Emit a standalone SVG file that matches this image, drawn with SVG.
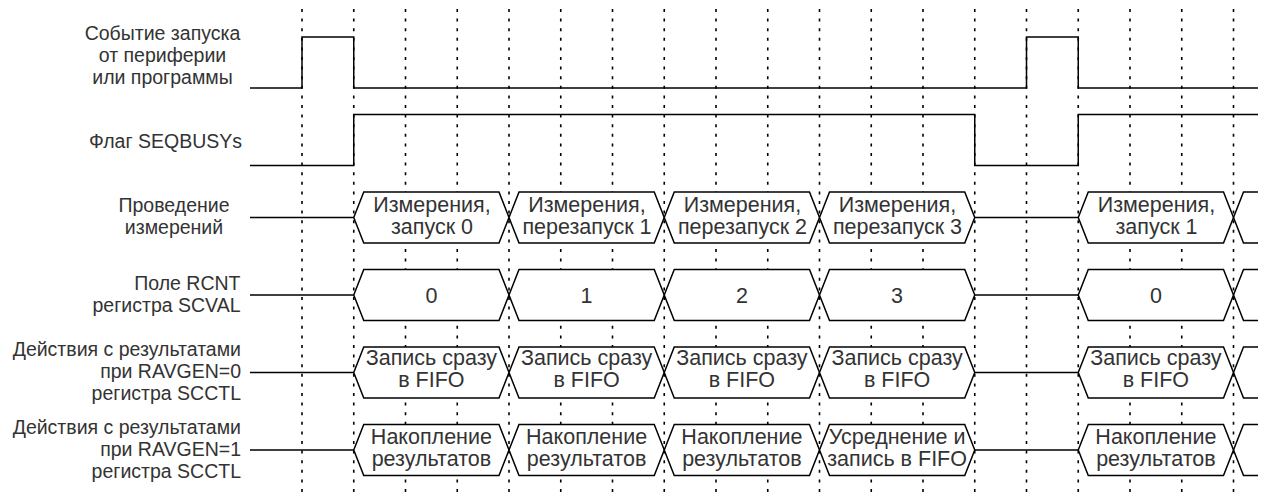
<svg xmlns="http://www.w3.org/2000/svg" width="1264" height="501" viewBox="0 0 1264 501">
<style>
  text { font-family: "Liberation Sans", Arial, sans-serif; font-size: 19.5px; fill: #333333; }
  .c { text-anchor: middle; }
  .e { text-anchor: end; }
  .h text { font-size: 21.5px; text-anchor: middle; }
  .grid line { stroke: #000; stroke-width: 1.6; stroke-dasharray: 3 6.6; }
  .sig { fill: none; stroke: #000; stroke-width: 1.5; }
  .hex { fill: #fff; stroke: #000; stroke-width: 1.5; stroke-linejoin: miter; }
  .ln { fill: none; stroke: #000; stroke-width: 1.5; }
</style>
<rect width="1264" height="501" fill="#fff"/>
<g id="connectors">
  <g class="grid">
    <line x1="302" y1="9" x2="302" y2="496"/>
    <line x1="353.75" y1="9" x2="353.75" y2="496"/>
    <line x1="405.5" y1="9" x2="405.5" y2="496"/>
    <line x1="457.25" y1="9" x2="457.25" y2="496"/>
    <line x1="509" y1="9" x2="509" y2="496"/>
    <line x1="560.75" y1="9" x2="560.75" y2="496"/>
    <line x1="612.5" y1="9" x2="612.5" y2="496"/>
    <line x1="664.25" y1="9" x2="664.25" y2="496"/>
    <line x1="716" y1="9" x2="716" y2="496"/>
    <line x1="767.75" y1="9" x2="767.75" y2="496"/>
    <line x1="819.5" y1="9" x2="819.5" y2="496"/>
    <line x1="871.25" y1="9" x2="871.25" y2="496"/>
    <line x1="923" y1="9" x2="923" y2="496"/>
    <line x1="974.75" y1="9" x2="974.75" y2="496"/>
    <line x1="1026.5" y1="9" x2="1026.5" y2="496"/>
    <line x1="1078.25" y1="9" x2="1078.25" y2="496"/>
    <line x1="1130" y1="9" x2="1130" y2="496"/>
    <line x1="1181.75" y1="9" x2="1181.75" y2="496"/>
    <line x1="1233.5" y1="9" x2="1233.5" y2="496"/>
  </g>
  <path class="ln" d="M250,217.5 H353.75 M974.75,217.5 H1078.25"/>
  <path class="ln" d="M250,295 H353.75 M974.75,295 H1078.25"/>
  <path class="ln" d="M250,372.5 H353.75 M974.75,372.5 H1078.25"/>
  <path class="ln" d="M250,450 H353.75 M974.75,450 H1078.25"/>
</g>

<g id="label-trigger">
  <text class="c" x="162.5" y="39.5">Событие запуска</text>
  <text class="c" x="162.5" y="61.5">от периферии</text>
  <text class="c" x="162.5" y="83.5">или программы</text>
</g>
<g id="signal-trigger">
  <path class="sig" d="M250,88 H302 V37 H353.75 V88 H1026.5 V37 H1078.25 V88 H1258"/>
</g>

<g id="label-seqbusy">
  <text class="e" x="242" y="147.5">Флаг SEQBUSYs</text>
</g>
<g id="signal-seqbusy">
  <path class="sig" d="M250,165.5 H353.75 V114.5 H974.75 V165.5 H1078.25 V114.5 H1258"/>
</g>

<g id="label-meas">
  <text class="c" x="174" y="211.5">Проведение</text>
  <text class="c" x="174" y="233.5">измерений</text>
</g>
<g id="meas-0" class="h">
  <path class="hex" d="M353.75,217.5 L363.75,192 H499 L509,217.5 L499,243 H363.75 Z"/>
  <text x="432" y="211.5">Измерения,</text>
  <text x="432" y="233.5">запуск 0</text>
</g>
<g id="meas-1" class="h">
  <path class="hex" d="M509,217.5 L519,192 H654.25 L664.25,217.5 L654.25,243 H519 Z"/>
  <text x="587" y="211.5">Измерения,</text>
  <text x="587" y="233.5">перезапуск 1</text>
</g>
<g id="meas-2" class="h">
  <path class="hex" d="M664.25,217.5 L674.25,192 H809.5 L819.5,217.5 L809.5,243 H674.25 Z"/>
  <text x="742.5" y="211.5">Измерения,</text>
  <text x="742.5" y="233.5">перезапуск 2</text>
</g>
<g id="meas-3" class="h">
  <path class="hex" d="M819.5,217.5 L829.5,192 H964.75 L974.75,217.5 L964.75,243 H829.5 Z"/>
  <text x="897.5" y="211.5">Измерения,</text>
  <text x="897.5" y="233.5">перезапуск 3</text>
</g>
<g id="meas-4" class="h">
  <path class="hex" d="M1078.25,217.5 L1088.25,192 H1223.5 L1233.5,217.5 L1223.5,243 H1088.25 Z"/>
  <text x="1156.5" y="211.5">Измерения,</text>
  <text x="1156.5" y="233.5">запуск 1</text>
</g>
<g id="meas-5">
  <path class="ln" d="M1258,192 H1243.5 L1233.5,217.5 L1243.5,243 H1258"/>
</g>

<g id="label-rcnt">
  <text class="e" x="240.5" y="289.5">Поле RCNT</text>
  <text class="e" x="240.5" y="311.5">регистра SCVAL</text>
</g>
<g id="rcnt-0" class="h">
  <path class="hex" d="M353.75,295 L363.75,269.5 H499 L509,295 L499,320.5 H363.75 Z"/>
  <text x="431.4" y="302.5">0</text>
</g>
<g id="rcnt-1" class="h">
  <path class="hex" d="M509,295 L519,269.5 H654.25 L664.25,295 L654.25,320.5 H519 Z"/>
  <text x="586.6" y="302.5">1</text>
</g>
<g id="rcnt-2" class="h">
  <path class="hex" d="M664.25,295 L674.25,269.5 H809.5 L819.5,295 L809.5,320.5 H674.25 Z"/>
  <text x="741.9" y="302.5">2</text>
</g>
<g id="rcnt-3" class="h">
  <path class="hex" d="M819.5,295 L829.5,269.5 H964.75 L974.75,295 L964.75,320.5 H829.5 Z"/>
  <text x="897.1" y="302.5">3</text>
</g>
<g id="rcnt-4" class="h">
  <path class="hex" d="M1078.25,295 L1088.25,269.5 H1223.5 L1233.5,295 L1223.5,320.5 H1088.25 Z"/>
  <text x="1155.9" y="302.5">0</text>
</g>
<g id="rcnt-5">
  <path class="ln" d="M1258,269.5 H1243.5 L1233.5,295 L1243.5,320.5 H1258"/>
</g>

<g id="label-ravgen0">
  <text class="e" x="241" y="356">Действия с результатами</text>
  <text class="e" x="241" y="378">при RAVGEN=0</text>
  <text class="e" x="241" y="400">регистра SCCTL</text>
</g>
<g id="r0-0" class="h">
  <path class="hex" d="M353.75,372.5 L363.75,347 H499 L509,372.5 L499,398 H363.75 Z"/>
  <text x="431.4" y="365">Запись сразу</text>
  <text x="431.4" y="387">в FIFO</text>
</g>
<g id="r0-1" class="h">
  <path class="hex" d="M509,372.5 L519,347 H654.25 L664.25,372.5 L654.25,398 H519 Z"/>
  <text x="586.6" y="365">Запись сразу</text>
  <text x="586.6" y="387">в FIFO</text>
</g>
<g id="r0-2" class="h">
  <path class="hex" d="M664.25,372.5 L674.25,347 H809.5 L819.5,372.5 L809.5,398 H674.25 Z"/>
  <text x="741.9" y="365">Запись сразу</text>
  <text x="741.9" y="387">в FIFO</text>
</g>
<g id="r0-3" class="h">
  <path class="hex" d="M819.5,372.5 L829.5,347 H964.75 L974.75,372.5 L964.75,398 H829.5 Z"/>
  <text x="897.1" y="365">Запись сразу</text>
  <text x="897.1" y="387">в FIFO</text>
</g>
<g id="r0-4" class="h">
  <path class="hex" d="M1078.25,372.5 L1088.25,347 H1223.5 L1233.5,372.5 L1223.5,398 H1088.25 Z"/>
  <text x="1155.9" y="365">Запись сразу</text>
  <text x="1155.9" y="387">в FIFO</text>
</g>
<g id="r0-5">
  <path class="ln" d="M1258,347 H1243.5 L1233.5,372.5 L1243.5,398 H1258"/>
</g>

<g id="label-ravgen1">
  <text class="e" x="241" y="433.5">Действия с результатами</text>
  <text class="e" x="241" y="455.5">при RAVGEN=1</text>
  <text class="e" x="241" y="477.5">регистра SCCTL</text>
</g>
<g id="r1-0" class="h">
  <path class="hex" d="M353.75,450 L363.75,424.5 H499 L509,450 L499,475.5 H363.75 Z"/>
  <text x="431.4" y="444">Накопление</text>
  <text x="431.4" y="466">результатов</text>
</g>
<g id="r1-1" class="h">
  <path class="hex" d="M509,450 L519,424.5 H654.25 L664.25,450 L654.25,475.5 H519 Z"/>
  <text x="586.6" y="444">Накопление</text>
  <text x="586.6" y="466">результатов</text>
</g>
<g id="r1-2" class="h">
  <path class="hex" d="M664.25,450 L674.25,424.5 H809.5 L819.5,450 L809.5,475.5 H674.25 Z"/>
  <text x="741.9" y="444">Накопление</text>
  <text x="741.9" y="466">результатов</text>
</g>
<g id="r1-3" class="h">
  <path class="hex" d="M819.5,450 L829.5,424.5 H964.75 L974.75,450 L964.75,475.5 H829.5 Z"/>
  <text x="897.1" y="444">Усреднение и</text>
  <text x="897.1" y="466">запись в FIFO</text>
</g>
<g id="r1-4" class="h">
  <path class="hex" d="M1078.25,450 L1088.25,424.5 H1223.5 L1233.5,450 L1223.5,475.5 H1088.25 Z"/>
  <text x="1155.9" y="444">Накопление</text>
  <text x="1155.9" y="466">результатов</text>
</g>
<g id="r1-5">
  <path class="ln" d="M1258,424.5 H1243.5 L1233.5,450 L1243.5,475.5 H1258"/>
</g>
</svg>
